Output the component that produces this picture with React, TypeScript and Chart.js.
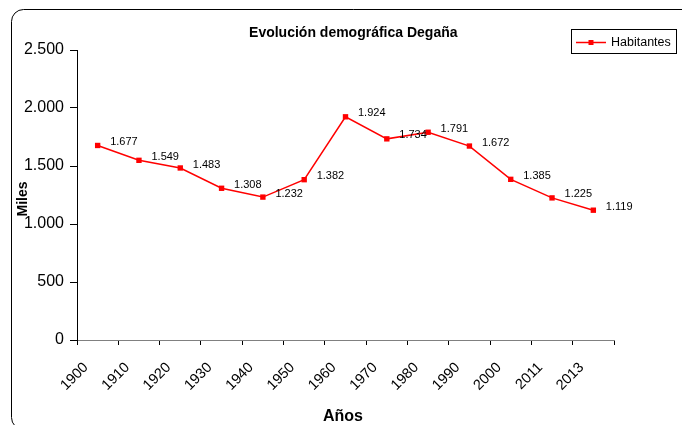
import React, { useEffect, useRef } from 'react';
import { Chart, registerables } from 'chart.js';

Chart.register(...registerables);

const categories = ['1900', '1910', '1920', '1930', '1940', '1950', '1960', '1970', '1980', '1990', '2000', '2011', '2013'];
const habitantes = [1677, 1549, 1483, 1308, 1232, 1382, 1924, 1734, 1791, 1672, 1385, 1225, 1119];
const yTicks = [0, 500, 1000, 1500, 2000, 2500];
const chartTitle = 'Evolución demográfica Degaña';
const seriesName = 'Habitantes';
const xTitle = 'Años';
const yTitle = 'Miles';

const FONT = '"Liberation Sans", Arial, Helvetica, sans-serif';
const fmt = (v: number) => String(v).replace(/\B(?=(\d{3})+(?!\d))/g, '.');

const decor = {
  id: 'decor',
  beforeDraw(chart: any) {
    const ctx = chart.ctx;
    ctx.save();
    ctx.fillStyle = '#ffffff';
    ctx.fillRect(0, 0, chart.width, chart.height);
    ctx.restore();
  },
  afterDatasetsDraw(chart: any) {
    const ctx = chart.ctx;
    const meta = chart.getDatasetMeta(0);
    ctx.save();
    ctx.fillStyle = '#000';
    ctx.font = `11px ${FONT}`;
    ctx.textAlign = 'left';
    ctx.textBaseline = 'middle';
    meta.data.forEach((pt: any, i: number) => {
      ctx.fillText(fmt(habitantes[i]), pt.x + 12.5, pt.y - 3.5);
    });
    ctx.restore();
  },
  afterDraw(chart: any) {
    const ctx = chart.ctx;
    ctx.save();
    // outer rounded border
    ctx.strokeStyle = '#000';
    ctx.lineWidth = 1;
    ctx.beginPath();
    ctx.roundRect(11.5, 9.5, 700, 420, 12);
    ctx.stroke();
    // title
    ctx.fillStyle = '#000';
    ctx.textAlign = 'center';
    ctx.textBaseline = 'alphabetic';
    ctx.font = `bold 14px ${FONT}`;
    ctx.fillText(chartTitle, 353.3, 37.3);
    // x axis title
    ctx.font = `bold 16px ${FONT}`;
    ctx.fillText(xTitle, 343, 420.5);
    // legend
    ctx.strokeStyle = '#000';
    ctx.lineWidth = 1;
    ctx.strokeRect(571.5, 29.5, 105, 24);
    ctx.strokeStyle = '#ff0000';
    ctx.lineWidth = 1.5;
    ctx.beginPath();
    ctx.moveTo(576, 42.5);
    ctx.lineTo(606, 42.5);
    ctx.stroke();
    ctx.fillStyle = '#ff0000';
    ctx.fillRect(588.5, 40, 5, 5);
    ctx.fillStyle = '#000';
    ctx.textAlign = 'left';
    ctx.textBaseline = 'middle';
    ctx.font = `12.5px ${FONT}`;
    ctx.fillText(seriesName, 611, 42.5);
    // y axis title
    ctx.translate(27, 199);
    ctx.rotate(-Math.PI / 2);
    ctx.textAlign = 'center';
    ctx.textBaseline = 'alphabetic';
    ctx.font = `bold 14px ${FONT}`;
    ctx.fillText(yTitle, 0, 0);
    ctx.restore();
  },
};

export default function App() {
  const ref = useRef<HTMLCanvasElement | null>(null);

  useEffect(() => {
    if (!ref.current) return;
    const chart = new Chart(ref.current, {
      type: 'line',
      data: {
        labels: categories,
        datasets: [
          {
            label: seriesName,
            data: habitantes,
            borderColor: '#ff0000',
            borderWidth: 1.5,
            backgroundColor: '#ff0000',
            pointStyle: 'rect',
            pointRadius: 3.8,
            pointBackgroundColor: '#ff0000',
            pointBorderColor: '#ff0000',
            pointBorderWidth: 0,
            tension: 0,
            fill: false,
            clip: false as any,
          },
        ],
      },
      options: {
        responsive: false,
        animation: false,
        events: [],
        layout: { padding: { top: 50, right: 68, left: 0, bottom: 0 }, autoPadding: false } as any,
        plugins: {
          legend: { display: false },
          title: { display: false },
          tooltip: { enabled: false },
        },
        scales: {
          x: {
            type: 'category',
            offset: true,
            grid: { offset: true, drawOnChartArea: false, drawTicks: true, tickLength: 5, color: '#000' },
            border: { display: true, color: '#808080', width: 1 },
            ticks: {
              minRotation: 45,
              maxRotation: 45,
              autoSkip: false,
              padding: 14,
              labelOffset: -11.7,
              color: '#000',
              font: { family: FONT, size: 14.5 },
            },
            afterFit: (s: any) => {
              s.height = 85;
            },
          },
          y: {
            min: 0,
            max: 2500,
            ticks: {
              stepSize: 500,
              padding: 6,
              color: '#000',
              font: { family: FONT, size: 16 },
              callback: (v: any) => fmt(Number(v)),
            },
            afterBuildTicks: (s: any) => {
              s.ticks = yTicks.map((v) => ({ value: v }));
            },
            grid: { drawOnChartArea: false, drawTicks: true, tickLength: 7, color: '#000' },
            border: { display: true, color: '#000', width: 1 },
            afterFit: (s: any) => {
              s.width = 77;
            },
          },
        },
      },
      plugins: [decor],
    });
    return () => chart.destroy();
  }, []);

  return (
    <div style={{ position: 'fixed', left: 0, top: 0, width: 682, height: 425, background: '#fff' }}>
      <canvas ref={ref} width={682} height={425} style={{ display: 'block', width: 682, height: 425 }} />
    </div>
  );
}
